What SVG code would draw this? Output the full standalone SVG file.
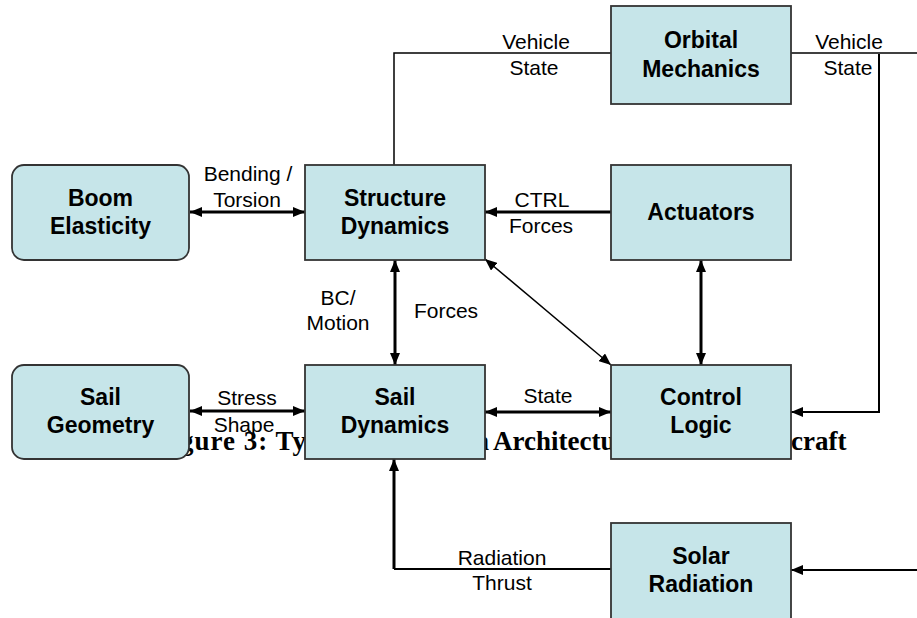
<svg xmlns="http://www.w3.org/2000/svg" width="917" height="618" viewBox="0 0 917 618">
<defs>
<style>
.box{fill:#C6E5E9;stroke:#333;stroke-width:1.8}
.t{font-family:"Liberation Sans",Arial,sans-serif;font-weight:bold;font-size:23px;fill:#000;text-anchor:middle}
.l{font-family:"Liberation Sans",Arial,sans-serif;font-size:21px;fill:#000;text-anchor:middle}
.cap{font-family:"Liberation Serif","Times New Roman",serif;font-weight:bold;font-size:27px;fill:#000}
.thick{stroke:#000;stroke-width:3;fill:none}
.mid{stroke:#000;stroke-width:2;fill:none}
.thin{stroke:#000;stroke-width:1.5;fill:none}
</style>
<marker id="ah" viewBox="0 0 12 10" refX="12" refY="5" markerWidth="12" markerHeight="10" markerUnits="userSpaceOnUse" orient="auto-start-reverse">
<path d="M0,0 L12,5 L0,10 z" fill="#000"/>
</marker>
</defs>
<rect width="917" height="618" fill="#fff"/>

<text class="cap" y="450"><tspan x="154" letter-spacing="1">Figure 3: Typical </tspan><tspan x="363">Simulation </tspan><tspan x="493">Architecture for Sail Spa</tspan><tspan x="791">craft</tspan></text>

<g id="connectors">
<polyline class="thin" points="394,165 394,53 611,53"/>
<polyline class="thin" points="791,53 917,53"/>
<polyline class="mid" points="879,54 879,412 791,412" marker-end="url(#ah)"/>
<line class="thick" x1="190" y1="212" x2="305" y2="212" marker-start="url(#ah)" marker-end="url(#ah)"/>
<line class="thick" x1="611" y1="212" x2="485" y2="212" marker-end="url(#ah)"/>
<line class="thick" x1="395" y1="260" x2="395" y2="365" marker-start="url(#ah)" marker-end="url(#ah)"/>
<line class="thin" x1="485" y1="259" x2="611" y2="365" marker-start="url(#ah)" marker-end="url(#ah)"/>
<line class="thick" x1="701" y1="260" x2="701" y2="365" marker-start="url(#ah)" marker-end="url(#ah)"/>
<line class="thick" x1="190" y1="411" x2="305" y2="411" marker-start="url(#ah)" marker-end="url(#ah)"/>
<line class="thick" x1="485" y1="412" x2="611" y2="412" marker-start="url(#ah)" marker-end="url(#ah)"/>
<polyline class="mid" points="611,569 394,569"/>
<line class="thick" x1="394" y1="569" x2="394" y2="459" marker-end="url(#ah)"/>
<line class="mid" x1="917" y1="570" x2="791" y2="570" marker-end="url(#ah)"/>
</g>

<g id="labels">
<text class="l" x="536" y="49">Vehicle</text>
<text class="l" x="534" y="75">State</text>
<text class="l" x="849" y="49">Vehicle</text>
<text class="l" x="848" y="75">State</text>
<text class="l" x="248" y="181">Bending /</text>
<text class="l" x="247" y="207">Torsion</text>
<text class="l" x="542" y="207">CTRL</text>
<text class="l" x="541" y="233">Forces</text>
<text class="l" x="338" y="305">BC/</text>
<text class="l" x="338" y="330">Motion</text>
<text class="l" x="446" y="318">Forces</text>
<text class="l" x="247" y="405">Stress</text>
<text class="l" x="244" y="432">Shape</text>
<text class="l" x="548" y="403">State</text>
<text class="l" x="502" y="565">Radiation</text>
<text class="l" x="502" y="590">Thrust</text>
</g>

<g id="orbital-mechanics">
<rect class="box" x="611" y="6" width="180" height="98"/>
<text class="t" x="701" y="48">Orbital</text>
<text class="t" x="701" y="77">Mechanics</text>
</g>
<g id="boom-elasticity">
<rect class="box" x="12" y="165" width="177" height="95" rx="12"/>
<text class="t" x="100.5" y="206">Boom</text>
<text class="t" x="100.5" y="234">Elasticity</text>
</g>
<g id="structure-dynamics">
<rect class="box" x="305" y="165" width="180" height="95"/>
<text class="t" x="395" y="206">Structure</text>
<text class="t" x="395" y="234">Dynamics</text>
</g>
<g id="actuators">
<rect class="box" x="611" y="165" width="180" height="95"/>
<text class="t" x="701" y="220">Actuators</text>
</g>
<g id="sail-geometry">
<rect class="box" x="12" y="365" width="177" height="94" rx="12"/>
<text class="t" x="100.5" y="405">Sail</text>
<text class="t" x="100.5" y="433">Geometry</text>
</g>
<g id="sail-dynamics">
<rect class="box" x="305" y="365" width="180" height="94"/>
<text class="t" x="395" y="405">Sail</text>
<text class="t" x="395" y="433">Dynamics</text>
</g>
<g id="control-logic">
<rect class="box" x="611" y="365" width="180" height="94"/>
<text class="t" x="701" y="405">Control</text>
<text class="t" x="701" y="433">Logic</text>
</g>
<g id="solar-radiation">
<rect class="box" x="611" y="523" width="180" height="100"/>
<text class="t" x="701" y="564">Solar</text>
<text class="t" x="701" y="592">Radiation</text>
</g>
</svg>
